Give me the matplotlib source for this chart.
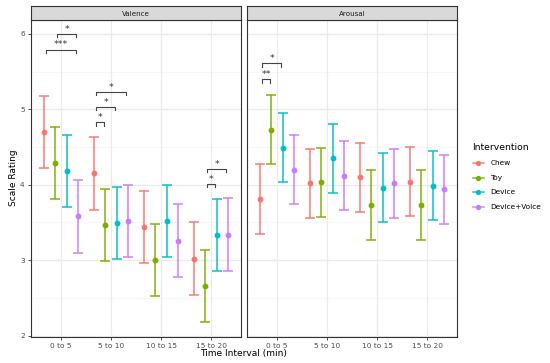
import matplotlib
matplotlib.use("Agg")
import matplotlib.pyplot as plt
import numpy as np

categories = ["0 to 5", "5 to 10", "10 to 15", "15 to 20"]
groups = ["Chew", "Toy", "Device", "Device+Voice"]
colors = ["#F8766D", "#7CAE00", "#00BFC4", "#C77CFF"]

valence_mean = {
    "Chew": [4.70, 4.15, 3.44, 3.02],
    "Toy": [4.29, 3.47, 3.00, 2.66],
    "Device": [4.18, 3.49, 3.52, 3.33],
    "Device+Voice": [3.58, 3.52, 3.26, 3.34],
}
valence_half = {
    "Chew": [0.48, 0.48, 0.48, 0.48],
    "Toy": [0.48, 0.48, 0.48, 0.48],
    "Device": [0.48, 0.48, 0.48, 0.48],
    "Device+Voice": [0.48, 0.48, 0.48, 0.48],
}
arousal_mean = {
    "Chew": [3.81, 4.02, 4.10, 4.04],
    "Toy": [4.73, 4.03, 3.73, 3.73],
    "Device": [4.49, 4.35, 3.96, 3.99],
    "Device+Voice": [4.20, 4.12, 4.02, 3.94],
}
arousal_half = {
    "Chew": [0.46, 0.46, 0.46, 0.46],
    "Toy": [0.46, 0.46, 0.46, 0.46],
    "Device": [0.46, 0.46, 0.46, 0.46],
    "Device+Voice": [0.46, 0.46, 0.46, 0.46],
}

# significance brackets: (category index, group a, group b, y, label)
valence_sig = [
    (0, 1, 3, 6.00, "*"),
    (0, 0, 3, 5.79, "***"),
    (1, 0, 1, 4.83, "*"),
    (1, 0, 2, 5.03, "*"),
    (1, 0, 3, 5.23, "*"),
    (3, 1, 2, 4.01, "*"),
    (3, 1, 3, 4.21, "*"),
]
arousal_sig = [
    (0, 0, 1, 5.40, "**"),
    (0, 0, 2, 5.61, "*"),
]

W, H = 550, 363
fig = plt.figure(figsize=(W / 100, H / 100), dpi=100)

def px_axes(x0, y0, x1, y1):
    return fig.add_axes([x0 / W, 1 - y1 / H, (x1 - x0) / W, (y1 - y0) / H])

offsets = np.array([-0.3375, -0.1125, 0.1125, 0.3375])
ylo, yhi = 1.985, 6.185
grid_c = "#EBEBEB"
edge_c = "#333333"

def draw_panel(x0, x1, title, means, halfs, sigs, show_y):
    ax = px_axes(x0, 20, x1, 336.7)
    ax.set_xlim(0.4, 4.6)
    ax.set_ylim(ylo, yhi)
    ax.set_facecolor("white")
    for v in [2.5, 3.5, 4.5, 5.5]:
        ax.axhline(v, color="#F4F4F4", lw=0.5, zorder=0)
    for v in [2, 3, 4, 5, 6]:
        ax.axhline(v, color=grid_c, lw=0.9, zorder=0)
    for c in range(1, 5):
        ax.axvline(c, color=grid_c, lw=0.9, zorder=0)
    xs = np.arange(1, 5)
    for gi, g in enumerate(groups):
        x = xs + offsets[gi]
        m = np.array(means[g])
        h = np.array(halfs[g])
        ax.errorbar(x, m, yerr=h, fmt="none", ecolor=colors[gi], elinewidth=1.4,
                    capsize=3.9, capthick=1.4, alpha=0.75, zorder=2)
        ax.plot(x, m, "o", color=colors[gi], ms=3.2, zorder=3)
    for ci, ga, gb, y, lab in sigs:
        xa = ci + 1 + offsets[ga] + 0.04
        xb = ci + 1 + offsets[gb] - 0.03
        t = 0.045
        ax.plot([xa, xa, xb, xb], [y - t, y, y, y - t], color="#444444", lw=0.8, zorder=4)
        ax.text((xa + xb) / 2, y + 0.005, lab, ha="center", va="bottom",
                fontsize=6.8, color="#333333", zorder=4)
    ax.set_xticks(xs)
    ax.set_xticklabels(categories, fontsize=5.3, color="#4D4D4D")
    ax.set_yticks([2, 3, 4, 5, 6])
    if show_y:
        ax.set_yticklabels(["2", "3", "4", "5", "6"], fontsize=5.3, color="#4D4D4D")
        ax.tick_params(axis="y", length=2.5, width=0.6, color=edge_c, pad=2)
    else:
        ax.tick_params(axis="y", length=0, labelleft=False)
    ax.tick_params(axis="x", length=2.5, width=0.6, color=edge_c, pad=2)
    for s in ax.spines.values():
        s.set_color(edge_c)
        s.set_linewidth(0.8)
    # strip
    sx = px_axes(x0, 5.8, x1, 20)
    sx.set_facecolor("#D9D9D9")
    sx.set_xticks([]); sx.set_yticks([])
    for s in sx.spines.values():
        s.set_color(edge_c)
        s.set_linewidth(0.8)
    sx.text(0.5, 0.45, title, ha="center", va="center", fontsize=5.1,
            color="#1A1A1A", transform=sx.transAxes)
    return ax

ax1 = draw_panel(31, 241, "Valence", valence_mean, valence_half, valence_sig, True)
ax2 = draw_panel(247, 457, "Arousal", arousal_mean, arousal_half, arousal_sig, False)

fig.text(14 / W, 1 - 178 / H, "Scale Rating", rotation=90, ha="center", va="center",
         fontsize=6.5, color="black")
fig.text(244 / W, 1 - 353.5 / H, "Time Interval (min)", ha="center", va="center",
         fontsize=6.5, color="black")

# legend
fig.text(472 / W, 1 - 147 / H, "Intervention", ha="left", va="center", fontsize=6.7)
ys = [163.3, 178, 192.3, 207]
for gi, g in enumerate(groups):
    la = fig.add_axes([470 / W, 1 - (ys[gi] + 6) / H, 16 / W, 12 / H])
    la.set_xlim(0, 1); la.set_ylim(0, 1); la.axis("off")
    la.plot([0.17, 0.87], [0.5, 0.5], color=colors[gi], lw=1.2, alpha=0.8)
    la.plot([0.52], [0.5], "o", color=colors[gi], ms=2.8)
    fig.text(490.5 / W, 1 - ys[gi] / H, g, ha="left", va="center", fontsize=5.3)

fig.savefig("out.png", dpi=100)
